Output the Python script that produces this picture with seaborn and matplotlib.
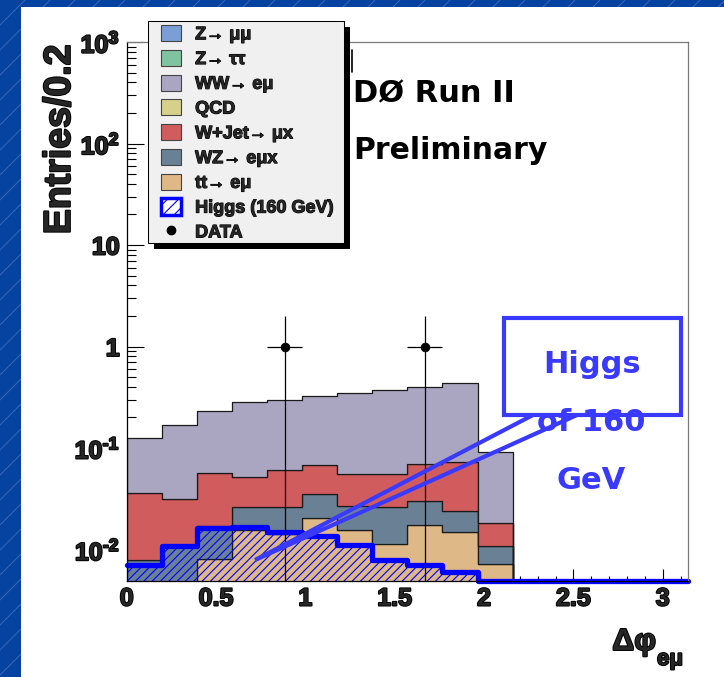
import numpy as np
import pandas as pd
import seaborn as sns
import matplotlib
matplotlib.use("Agg")
import matplotlib.pyplot as plt
from matplotlib import patheffects
from matplotlib.patches import Rectangle, Patch, Polygon
from matplotlib.lines import Line2D
from matplotlib.ticker import (LogLocator, NullFormatter, MultipleLocator,
                               FixedLocator, FixedFormatter)

# ---------------- histogram contents: 16 bins of delta-phi(e,mu) in [0, pi] ----------------
N_BINS = 16
ww_emu = [0.0901, 0.1384, 0.1755, 0.2314, 0.2370, 0.2607, 0.2963, 0.3183,
          0.3271, 0.3614, 0.0738, 0, 0, 0, 0, 0]
wjet_mux = [0.0280, 0.0208, 0.0393, 0.0255, 0.0345, 0.0329, 0.0286, 0.0296,
            0.0400, 0.0494, 0.0073, 0, 0, 0, 0, 0]
wz_emux = [0.0079, 0.0108, 0.0091, 0.0106, 0.0123, 0.0149, 0.0114, 0.0147,
           0.0124, 0.0094, 0.0037, 0, 0, 0, 0, 0]
ttbar_emu = [0, 0, 0.0081, 0.0155, 0.0142, 0.0205, 0.0157, 0.0114,
             0.0175, 0.0148, 0.0072, 0, 0, 0, 0, 0]
higgs_160 = [0.0070, 0.0109, 0.0164, 0.0166, 0.0148, 0.0135, 0.0111, 0.0079,
             0.0071, 0.0060, 0, 0, 0, 0, 0, 0]
data_counts = [0, 0, 0, 0, 1, 0, 0, 0, 1, 0, 0, 0, 0, 0, 0, 0]

# stacked backgrounds, listed from top of the stack to the bottom
stack_labels = ["WW→ eμ", "W+Jet→ μx", "WZ→ eμx", "tt→ eμ"]
stack_values = [ww_emu, wjet_mux, wz_emux, ttbar_emu]

legend_labels = ["Z→ μμ", "Z→ ττ", "WW→ eμ", "QCD", "W+Jet→ μx", "WZ→ eμx",
                 "tt→ eμ", "Higgs (160 GeV)", "DATA"]
legend_colors = ["#7b9ed6", "#80c3a0", "#aaa6c2", "#d5d08b", "#d05c5e",
                 "#6a8195", "#dfb887"]
stack_colors = {"WW→ eμ": "#aaa6c2", "W+Jet→ μx": "#d05c5e",
                "WZ→ eμx": "#6a8195", "tt→ eμ": "#dfb887"}

xtick_values = [0, 0.5, 1, 1.5, 2, 2.5, 3]
xtick_labels = ["0", "0.5", "1", "1.5", "2", "2.5", "3"]
ytick_values = [1e-2, 1e-1, 1, 10, 1e2, 1e3]
ytick_labels = [r"$10^{\text{-}2}$", r"$10^{\text{-}1}$", "1", "10",
                r"$10^{2}$", r"$10^{3}$"]

Y_MIN, Y_MAX = 0.0049, 1000.0

# ---------------- style ----------------
sns.set_style("white")
plt.rcParams["font.family"] = ["Liberation Sans", "DejaVu Sans"]
plt.rcParams["mathtext.fontset"] = "custom"
plt.rcParams["mathtext.rm"] = "Liberation Sans:bold"
plt.rcParams["mathtext.it"] = "Liberation Sans:bold"
plt.rcParams["mathtext.bf"] = "Liberation Sans:bold"
plt.rcParams["mathtext.sf"] = "Liberation Sans:bold"
plt.rcParams["hatch.linewidth"] = 0.8

HEAVY = [patheffects.withStroke(linewidth=1.4, foreground="black")]
HEAVY_THIN = [patheffects.withStroke(linewidth=0.8, foreground="black")]
WIDE_FONT = ["DejaVu Sans"]
CALLOUT_BLUE = "#3a3aff"
HIGGS_BLUE = "#0000ff"

W, H = 724, 677
fig = plt.figure(figsize=(W / 100, H / 100), dpi=100)
fig.patch.set_facecolor("#0642a0")


def fx(px):
    return px / W


def fy(py):
    return 1 - py / H


# slide background: diagonal pin-stripes and the white page
for c in range(-H, W + 25, 25):
    fig.add_artist(Line2D([fx(c), fx(c + H)], [fy(H), fy(0)],
                          color="#3a68bc", lw=0.7, zorder=-3))
fig.add_artist(Rectangle((fx(21), 0), 1 - fx(21), fy(7), facecolor="white",
                         edgecolor="none", zorder=-2))

ax = fig.add_axes([fx(126.7), fy(581), (688 - 126.7) / W, (581 - 42) / H])
ax.set_facecolor("white")

edges = np.linspace(0, np.pi, N_BINS + 1)
bin_edges = edges.tolist()
centers = 0.5 * (edges[:-1] + edges[1:])
bin_width = edges[1] - edges[0]

# stacked backgrounds
rows = []
for name, vals in zip(stack_labels, stack_values):
    for c, v in zip(centers, vals):
        rows.append({"phi": c, "entries": v, "process": name})
df = pd.DataFrame(rows)
sns.histplot(data=df, x="phi", weights="entries", hue="process",
             hue_order=stack_labels, palette=stack_colors, multiple="stack",
             element="step", bins=bin_edges, alpha=1, edgecolor="#1a1a1a",
             linewidth=0.9, legend=False, ax=ax)

# Higgs signal: hatched area plus thick outline (floored at the frame)
higgs_arr = np.array(higgs_160)
sig = pd.DataFrame({"phi": centers, "entries": higgs_arr,
                    "drawn": np.maximum(higgs_arr, Y_MIN)})
sns.histplot(data=sig, x="phi", weights="entries", bins=bin_edges,
             element="step", fill=True, color=HIGGS_BLUE, facecolor="none",
             edgecolor=HIGGS_BLUE, linewidth=0, hatch="////", alpha=1, ax=ax)
sns.histplot(data=sig, x="phi", weights="drawn", bins=bin_edges,
             element="step", fill=False, color=HIGGS_BLUE, linewidth=3.8,
             zorder=2.4, clip_on=False, ax=ax)

# data points with Poisson errors
counts = np.array(data_counts, dtype=float)
mask = counts > 0
ax.errorbar(centers[mask], counts[mask], xerr=bin_width / 2,
            yerr=np.sqrt(counts[mask]), fmt="none", ecolor="black",
            elinewidth=0.9, capsize=0, zorder=3.5)
sns.scatterplot(x=centers[mask], y=counts[mask], color="black", s=40,
                edgecolor="black", zorder=4, legend=False, ax=ax)

# axes
ax.set_xlim(0, np.pi)
ax.set_yscale("log")
ax.set_ylim(Y_MIN, Y_MAX)

ax.xaxis.set_major_locator(FixedLocator(xtick_values))
ax.xaxis.set_major_formatter(FixedFormatter(xtick_labels))
ax.xaxis.set_minor_locator(MultipleLocator(0.1))
ax.yaxis.set_major_locator(FixedLocator(ytick_values))
ax.yaxis.set_major_formatter(FixedFormatter(ytick_labels))
ax.yaxis.set_minor_locator(LogLocator(base=10, subs=np.arange(2, 10), numticks=50))
ax.yaxis.set_minor_formatter(NullFormatter())

ax.tick_params(axis="x", which="major", direction="in", length=8.9, width=0.8,
               pad=4, labelsize=18, top=False, bottom=True, color="black")
ax.tick_params(axis="x", which="minor", direction="in", length=3.8, width=0.8,
               top=False, bottom=True, color="black")
ax.tick_params(axis="y", which="major", direction="in", length=12.2, width=0.8,
               pad=5, labelsize=18, right=False, left=True, color="black")
ax.tick_params(axis="y", which="minor", direction="in", length=6.5, width=0.8,
               right=False, left=True, color="black")
for lab in ax.get_xticklabels() + ax.get_yticklabels():
    lab.set_fontweight("bold")
    lab.set_path_effects(HEAVY)

for side in ("top", "right"):
    ax.spines[side].set_color("#7a7a7a")
    ax.spines[side].set_linewidth(0.9)
for side in ("left", "bottom"):
    ax.spines[side].set_color("black")
    ax.spines[side].set_linewidth(0.9)

ax.set_ylabel("Entries/0.2", fontsize=27, fontweight="bold")
ax.yaxis.set_label_coords(-0.119, 0.995)
ax.yaxis.label.set(ha="right", va="center", rotation_mode="anchor",
                   path_effects=HEAVY)
ax.set_xlabel("Δφ", fontsize=22, fontweight="bold")
ax.xaxis.set_label_coords(0.943, -0.128)
ax.xaxis.label.set(ha="right", va="baseline", path_effects=HEAVY)
ax.text(0.9448, -0.1558, "eμ", transform=ax.transAxes, fontsize=16,
        fontweight="bold", ha="left", va="baseline", path_effects=HEAVY)

# experiment tags
fig.text(fx(353), fy(102), "DØ Run II", fontsize=22, fontweight="bold",
         family=WIDE_FONT, ha="left", va="baseline", color="black")
fig.text(fx(353), fy(159), "Preliminary", fontsize=21.5, fontweight="bold",
         family=WIDE_FONT, ha="left", va="baseline", color="black")

# callout box pointing at the signal
fig.add_artist(Rectangle((fx(504), fy(415)), (681 - 504) / W, (415 - 318) / H,
                         facecolor="none", edgecolor=CALLOUT_BLUE, lw=3,
                         zorder=6))
fig.add_artist(Polygon([(fx(533), fy(415)), (fx(255), fy(560)),
                        (fx(577), fy(415))], closed=False, fill=False,
                       edgecolor=CALLOUT_BLUE, lw=3, joinstyle="miter",
                       zorder=6))
for txt, xc, yb in (("Higgs", 592.5, 373), ("of 160", 591.5, 431),
                    ("GeV", 591, 489)):
    fig.text(fx(xc), fy(yb), txt, fontsize=22, fontweight="bold",
             family=WIDE_FONT, color=CALLOUT_BLUE, ha="center",
             va="baseline", zorder=7)

# legend box with drop shadow
fig.add_artist(Rectangle((fx(154), fy(249)), 196 / W, 222 / H,
                         facecolor="black", edgecolor="none", zorder=4.6))
fig.add_artist(Rectangle((fx(148), fy(243)), 196 / W, 222 / H,
                         facecolor="#f0f0f0", edgecolor="black", lw=0.75,
                         zorder=4.8))
fig.add_artist(Line2D([fx(352), fx(352)], [fy(50), fy(72)], color="black",
                      lw=1.2, zorder=5))

handles = [Patch(facecolor=c, edgecolor="#444444", lw=0.8) for c in legend_colors]
handles.append(Patch(facecolor="white", edgecolor=HIGGS_BLUE, lw=2.5, hatch="///"))
handles.append(Line2D([], [], marker="o", color="black", ls="none",
                      markersize=6))
leg = fig.legend(handles=handles, labels=legend_labels, loc="upper left",
                 bbox_to_anchor=(fx(161), fy(25)), frameon=False,
                 prop={"weight": "bold", "size": 13}, handlelength=1.11,
                 handleheight=1.0, labelspacing=0.36, handletextpad=0.78,
                 borderpad=0, borderaxespad=0)
for t in leg.get_texts():
    t.set_path_effects(HEAVY_THIN)

fig.savefig("out.png", dpi=100, facecolor=fig.get_facecolor())
